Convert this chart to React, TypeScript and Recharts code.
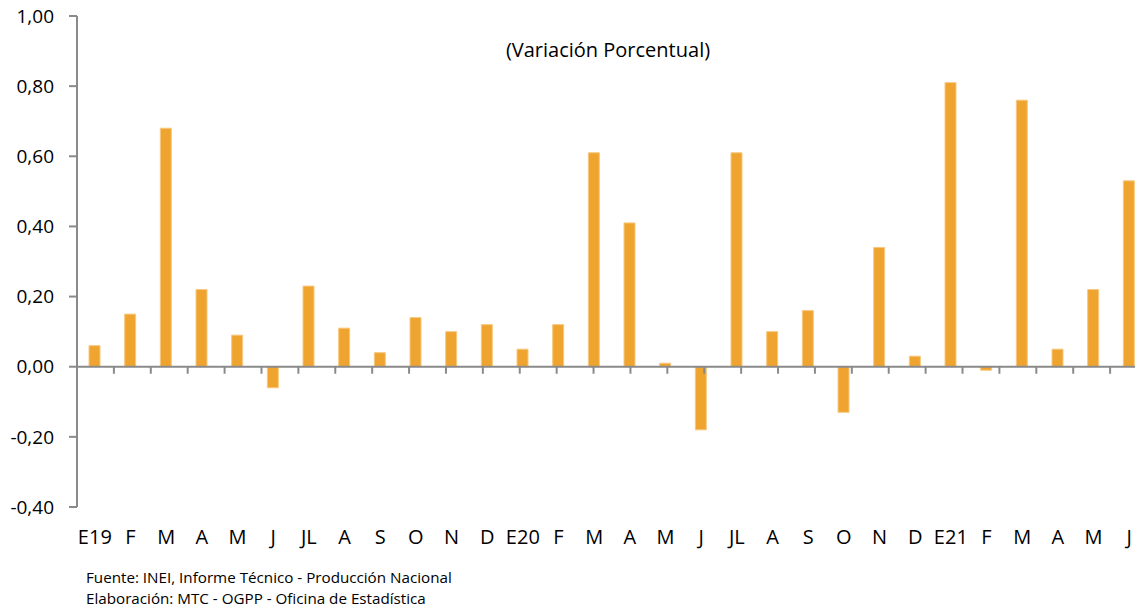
import React from "react";
import { BarChart, Bar, XAxis, YAxis, ReferenceLine } from "recharts";

const categories = [
  "E19", "F", "M", "A", "M", "J", "JL", "A", "S", "O", "N", "D",
  "E20", "F", "M", "A", "M", "J", "JL", "A", "S", "O", "N", "D",
  "E21", "F", "M", "A", "M", "J",
];
const values = [
  0.06, 0.15, 0.68, 0.22, 0.09, -0.06, 0.23, 0.11, 0.04, 0.14, 0.1, 0.12,
  0.05, 0.12, 0.61, 0.41, 0.01, -0.18, 0.61, 0.1, 0.16, -0.13, 0.34, 0.03,
  0.81, -0.01, 0.76, 0.05, 0.22, 0.53,
];
const yTicks = [-0.4, -0.2, 0, 0.2, 0.4, 0.6, 0.8, 1.0];
const titleText = "(Variación Porcentual)";
const sourceLines = [
  "Fuente: INEI, Informe Técnico - Producción Nacional",
  "Elaboración: MTC - OGPP - Oficina de Estadística",
];

const data = categories.map((c, i) => ({ key: `${c}-${i}`, label: c, value: values[i] }));
const boundaries = categories.slice(1).map((_, i) => i + 1);

const FONT = "'Open Sans', 'Noto Sans', sans-serif";
const AXIS_GRAY = "#8a8a8a";
const BAR_COLOR = "#F0A430";

const fmt = (v: number) => v.toFixed(2).replace(".", ",");

export default function App() {
  return (
    <div
      style={{
        position: "relative",
        marginTop: -8,
        marginBottom: -8,
        width: 1135,
        height: 612,
        overflow: "hidden",
        fontFamily: FONT,
      }}
    >
      <BarChart
        width={1145}
        height={568}
        data={data}
        margin={{ top: 16, right: 6, bottom: 21, left: 0 }}
      >
        <XAxis
          xAxisId="cat"
          dataKey="key"
          tickFormatter={(_v: string, i: number) => categories[i]}
          interval={0}
          tickLine={false}
          axisLine={false}
          tickSize={0}
          tickMargin={23}
          height={40}
          tick={{ fill: "#000", fontSize: 20, fontFamily: FONT }}
        />
        <XAxis xAxisId="num" type="number" domain={[0, categories.length]} hide allowDataOverflow />
        <YAxis
          domain={[-0.4, 1.0]}
          ticks={yTicks}
          interval={0}
          width={69}
          tickFormatter={fmt}
          tickSize={8}
          tickMargin={15}
          axisLine={{ stroke: AXIS_GRAY, strokeWidth: 2 }}
          tickLine={{ stroke: AXIS_GRAY, strokeWidth: 2 }}
          tick={{ fill: "#000", fontSize: 19, fontFamily: FONT }}
        />
        <Bar
          xAxisId="cat"
          dataKey="value"
          fill={BAR_COLOR}
          stroke="#F7C87E"
          strokeWidth={1}
          barSize={11}
          isAnimationActive={false}
        />
        <ReferenceLine xAxisId="cat" y={0} stroke={AXIS_GRAY} strokeWidth={2} />
        {boundaries.map((b) => (
          <ReferenceLine
            key={b}
            xAxisId="num"
            segment={[{ x: b, y: 0 }, { x: b, y: -0.02 }]}
            stroke={AXIS_GRAY}
            strokeWidth={2}
          />
        ))}
      </BarChart>
      <div
        style={{
          position: "absolute",
          left: 600,
          top: 39,
          transform: "translateX(-50%)",
          fontSize: 20,
          lineHeight: "22px",
          whiteSpace: "nowrap",
          color: "#000",
        }}
      >
        {titleText}
      </div>
      {sourceLines.map((line, i) => (
        <div
          key={i}
          style={{
            position: "absolute",
            left: 78,
            top: 568 + i * 21,
            fontSize: 15.2,
            lineHeight: "18px",
            whiteSpace: "nowrap",
            color: "#000",
          }}
        >
          {line}
        </div>
      ))}
    </div>
  );
}
